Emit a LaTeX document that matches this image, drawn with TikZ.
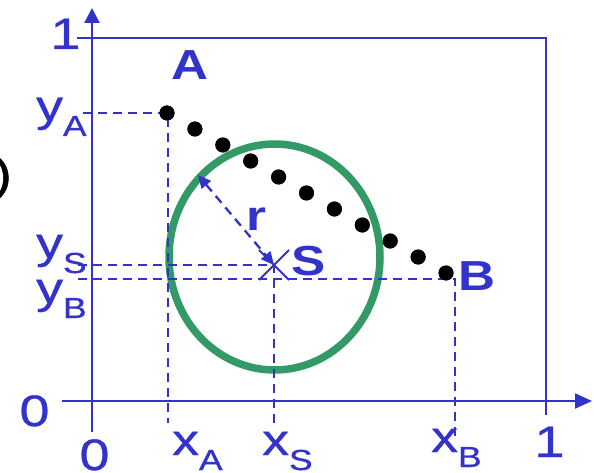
\documentclass[tikz,border=0pt]{standalone}
\usepackage{fontspec}
\setmainfont{Liberation Sans}
\newfontface\heavyface{Liberation Sans}[FakeBold=0.7]
\usetikzlibrary{arrows.meta}
\definecolor{ax}{RGB}{51,51,204}
\definecolor{gr}{RGB}{51,153,102}
\newcommand{\wide}[1]{\scalebox{1.22}[1]{#1}}
\newcommand{\lab}[2]{\wide{#1\raisebox{-15pt}{\fontsize{29}{29}\heavyface #2}}}
\begin{document}
\begin{tikzpicture}[x=1pt,y=-1pt,
  axis/.style={ax, line width=2.3pt},
  guide/.style={ax, line width=2.3pt, dash pattern=on 9pt off 6pt},
  txt/.style={ax, inner sep=0pt, font=\fontsize{44}{44}\heavyface},
  boldlab/.style={ax, inner sep=0pt, font=\fontsize{42}{42}\selectfont\bfseries, anchor=base},
  dot/.style={circle, fill=black, inner sep=0pt, minimum size=15pt}]
\useasboundingbox (0,0) rectangle (594,473);
% frame and axes
\coordinate (ytip) at (92,8);
\coordinate (ybot) at (92,432);
\coordinate (xstart) at (62,401);
\coordinate (xtip) at (592,401);
\coordinate (tl) at (77,38);
\coordinate (tr) at (546,38);
\coordinate (br) at (546,415);
\draw[axis] (tl) -- (tr) -- (br);
\draw[axis,-{Triangle[length=15pt,width=15pt]}] (ybot) -- (ytip);
\draw[axis,-{Triangle[length=17pt,width=15pt]}] (xstart) -- (xtip);
% circle
\draw[gr, line width=7.5pt] (274.5,257) ellipse [x radius=105.5, y radius=113];
% points
\foreach \i in {0,...,10} \node[dot] (d\i) at ({167+27.9*\i},{113+16*\i}) {};
\coordinate (S) at (274,265);
% guides
\coordinate (yA0) at (83,113);
\coordinate (xAe) at (168,423);
\coordinate (yS0) at (78,265);
\coordinate (xSe) at (274,423);
\coordinate (yB0) at (78,279);
\coordinate (Bc) at (455,279);
\coordinate (xBe) at (455,440);
\draw[guide] (yA0) -- (168,113) -- (xAe);
\draw[guide] (yS0) -- (S) -- (xSe);
\draw[guide] (yB0) -- (Bc) -- (xBe);
% S cross
\draw[ax, line width=2pt] (259,250) -- (289,280) (259,280) -- (289,250);
% radius arrow
\coordinate (rtop) at (198,175);
\draw[guide, {Triangle[length=13pt,width=12pt]}-{Triangle[length=13pt,width=12pt]}] (rtop) -- (S);
% redraw dots on top
\foreach \i in {0,...,10} \fill (d\i) circle (7.5pt);
% labels
\node[txt, anchor=base] (one1) at (65.5,49) {\wide{1}};
\node[txt, anchor=base] (onex) at (549.5,457) {\wide{1}};
\node[txt, anchor=base] (zy) at (34.5,426) {\wide{0}};
\node[txt, anchor=base] (zx) at (94.5,470) {\wide{0}};
\node[txt, anchor=base west] (lyA) at (36,121) {\lab{y}{A}};
\node[txt, anchor=base west] (lyS) at (36,258) {\lab{y}{S}};
\node[txt, anchor=base west] (lyB) at (36,303) {\lab{y}{B}};
\node[txt, anchor=base west] (lxA) at (172,455) {\lab{x}{A}};
\node[txt, anchor=base west] (lxS) at (262,455) {\lab{x}{S}};
\node[txt, anchor=base west] (lxB) at (431,452) {\lab{x}{B}};
\node[boldlab] (lA) at (190,80) {\wide{A}};
\node[boldlab] (lB) at (477,290) {\wide{B}};
\node[boldlab] (lS) at (309,275) {\wide{S}};
\node[boldlab] (lr) at (256,230) {\wide{r}};
\node[inner sep=0pt, anchor=base west, font=\fontsize{46}{46}\heavyface] (par) at (-7,190) {\wide{)}};
\end{tikzpicture}
\end{document}
